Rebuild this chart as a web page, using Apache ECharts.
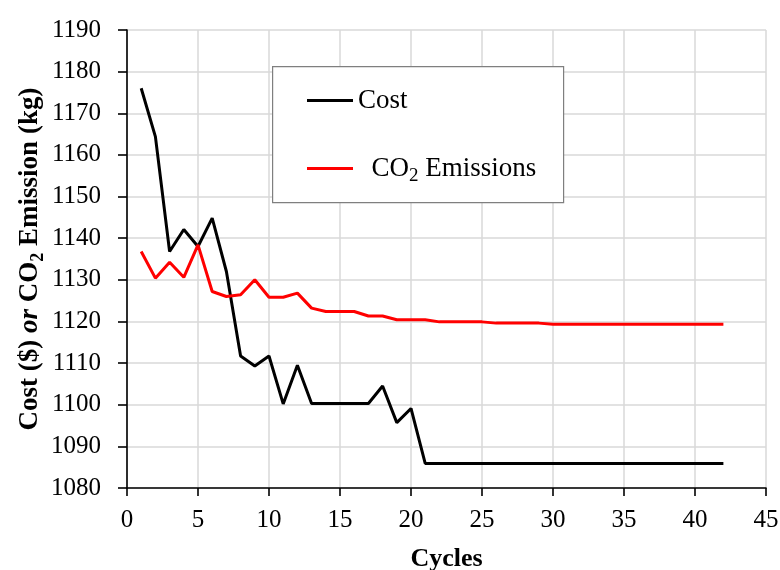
<!DOCTYPE html>
<html>
<head>
<meta charset="utf-8">
<script src="https://cdn.jsdelivr.net/npm/echarts@6/dist/echarts.min.js"></script>
<style>html,body{margin:0;padding:0;background:#fff}#c{width:780px;height:570px}</style>
</head>
<body>
<div id="c"></div>
<script>
const cycles = [1,2,3,4,5,6,7,8,9,10,11,12,13,14,15,16,17,18,19,20,21,22,23,24,25,26,27,28,29,30,31,32,33,34,35,36,37,38,39,40,41,42];
const cost = [1176,1164.4,1136.8,1142.1,1138,1144.8,1132,1111.7,1109.3,1111.7,1100.2,1109.5,1100.3,1100.3,1100.3,1100.3,1100.3,1104.5,1095.7,1099.1,
  1085.9,1085.9,1085.9,1085.9,1085.9,1085.9,1085.9,1085.9,1085.9,1085.9,1085.9,1085.9,1085.9,1085.9,1085.9,1085.9,1085.9,1085.9,1085.9,1085.9,1085.9,1085.9];
const co2 = [1136.8,1130.4,1134.2,1130.6,1138.4,1127.2,1126,1126.4,1130,1125.8,1125.8,1126.8,1123.2,1122.4,1122.4,1122.4,1121.3,1121.3,1120.4,1120.4,1120.4,
  1119.9,1119.9,1119.9,1119.9,1119.6,1119.6,1119.6,1119.6,1119.3,1119.3,1119.3,1119.3,1119.3,1119.3,1119.3,1119.3,1119.3,1119.3,1119.3,1119.3,1119.3];
const seriesNames = ['Cost', 'CO2 Emissions'];
const xTitle = 'Cycles';

const FONT = '"Liberation Serif", "Times New Roman", serif';
const chart = echarts.init(document.getElementById('c'));
chart.setOption({
  animation: false,
  backgroundColor: '#fff',
  grid: { left: 127, right: 14, top: 30, bottom: 82, containLabel: false, outerBoundsMode: 'none' },
  graphic: [{
    type: 'rect', left: 272, top: 66, z: 5,
    shape: { width: 291, height: 136 },
    style: { fill: '#fff', stroke: '#7f7f7f', lineWidth: 1.2 }
  }],
  legend: {
    orient: 'vertical', left: 302, top: 82, z: 10, padding: 5,
    icon: 'rect', itemWidth: 46, itemHeight: 3, itemGap: 39,
    data: seriesNames,
    formatter: function (n) {
      return n === 'Cost' ? '{n|Cost}' : '{n|  CO}{s|2}{n| Emissions}';
    },
    textStyle: {
      fontFamily: FONT, color: '#000',
      rich: {
        n: { fontFamily: FONT, fontSize: 27, lineHeight: 31, color: '#000' },
        s: { fontFamily: FONT, fontSize: 19, lineHeight: 19, padding: [14, 0, 0, 0], verticalAlign: 'top', color: '#000' }
      }
    }
  },
  xAxis: {
    type: 'value', min: 0, max: 45, interval: 5,
    name: xTitle, nameLocation: 'middle', nameGap: 58, nameMoveOverlap: false,
    nameTextStyle: { fontFamily: FONT, fontSize: 26, fontWeight: 'bold', color: '#000' },
    axisLine: { show: true, lineStyle: { color: '#000', width: 1.6 } },
    axisTick: { show: true, inside: false, length: 8, lineStyle: { color: '#000', width: 1.6 } },
    axisLabel: { fontFamily: FONT, fontSize: 25, color: '#000', margin: 20 },
    splitLine: { show: true, lineStyle: { color: '#d9d9d9', width: 1.5 } }
  },
  yAxis: {
    type: 'value', min: 1080, max: 1190, interval: 10,
    name: '{b|Cost ($) }{i|or}{b| CO}{s|2}{b| Emission (kg)}',
    nameLocation: 'middle', nameGap: 82, nameRotate: 90, nameMoveOverlap: false,
    nameTextStyle: {
      fontFamily: FONT, color: '#000',
      rich: {
        b: { fontFamily: FONT, fontSize: 27, fontWeight: 'bold', lineHeight: 30, color: '#000' },
        i: { fontFamily: FONT, fontSize: 27, fontWeight: 'bold', fontStyle: 'italic', lineHeight: 30, color: '#000' },
        s: { fontFamily: FONT, fontSize: 18, fontWeight: 'bold', lineHeight: 18, padding: [14, 0, 0, 0], verticalAlign: 'top', color: '#000' }
      }
    },
    axisLine: { show: true, lineStyle: { color: '#000', width: 1.6 } },
    axisTick: { show: true, inside: false, length: 9, lineStyle: { color: '#000', width: 1.6 } },
    axisLabel: { fontFamily: FONT, fontSize: 25, color: '#000', margin: 26, formatter: function (v) { return String(v); } },
    splitLine: { show: true, lineStyle: { color: '#d9d9d9', width: 1.5 } }
  },
  series: [
    {
      name: seriesNames[0], type: 'line', symbol: 'none', z: 3,
      itemStyle: { color: '#000' },
      lineStyle: { color: '#000', width: 3 },
      data: cycles.map((c, i) => [c, cost[i]])
    },
    {
      name: seriesNames[1], type: 'line', symbol: 'none', z: 3,
      itemStyle: { color: '#ff0000' },
      lineStyle: { color: '#ff0000', width: 3 },
      data: cycles.map((c, i) => [c, co2[i]])
    }
  ]
});
</script>
</body>
</html>
